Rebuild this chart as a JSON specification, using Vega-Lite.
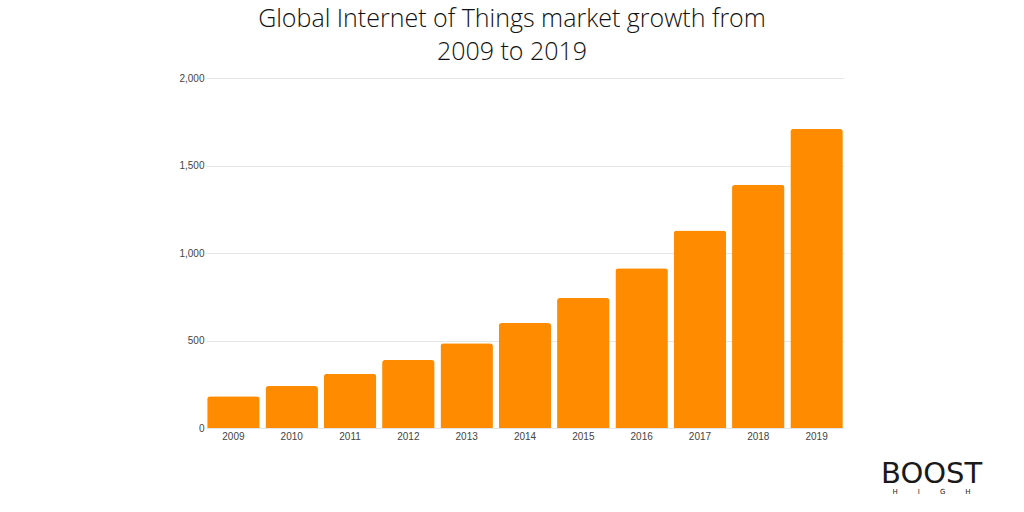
{
  "$schema": "https://vega.github.io/schema/vega-lite/v6.json",
  "width": 638,
  "height": 350,
  "autosize": "none",
  "padding": {"left": 206, "top": 78, "right": 180, "bottom": 84},
  "background": "white",
  "title": {
    "text": ["Global Internet of Things market growth from", "2009 to 2019"],
    "font": "Open Sans",
    "fontWeight": 300,
    "fontSize": 25,
    "color": "#111111",
    "lineHeight": 33,
    "anchor": "middle",
    "dx": -13,
    "offset": 8
  },
  "config": {
    "view": {"stroke": null},
    "axis": {
      "labelFont": "Liberation Sans",
      "labelFontSize": 10,
      "labelColor": "#444444",
      "domain": false,
      "ticks": false,
      "title": null
    }
  },
  "layer": [
    {
      "data": {
        "values": [
          {"year": "2009", "value": 182},
          {"year": "2010", "value": 240},
          {"year": "2011", "value": 310},
          {"year": "2012", "value": 389},
          {"year": "2013", "value": 485},
          {"year": "2014", "value": 600},
          {"year": "2015", "value": 743},
          {"year": "2016", "value": 913},
          {"year": "2017", "value": 1128},
          {"year": "2018", "value": 1390},
          {"year": "2019", "value": 1709}
        ]
      },
      "mark": {
        "type": "bar",
        "color": "#FF8C00",
        "cornerRadiusTopLeft": 3,
        "cornerRadiusTopRight": 3
      },
      "encoding": {
        "x": {
          "field": "year",
          "type": "ordinal",
          "scale": {"paddingInner": 0.1, "paddingOuter": 0.02},
          "axis": {"labelAngle": 0, "labelPadding": 3, "grid": false}
        },
        "y": {
          "field": "value",
          "type": "quantitative",
          "scale": {"domain": [0, 2000]},
          "axis": {
            "values": [0, 500, 1000, 1500, 2000],
            "format": ",.0f",
            "labelPadding": 2,
            "grid": true,
            "gridColor": "#e6e6e6",
            "gridWidth": 1
          }
        }
      }
    },
    {
      "data": {
        "values": [
          {"year": "2019", "pos": -263, "label": "BOOST"},
          {"year": "2019", "pos": -368, "label": "H\u00a0\u00a0\u00a0\u00a0\u00a0\u00a0\u00a0\u00a0\u00a0I\u00a0\u00a0\u00a0\u00a0\u00a0\u00a0\u00a0\u00a0\u00a0G\u00a0\u00a0\u00a0\u00a0\u00a0\u00a0\u00a0\u00a0\u00a0H"}
        ]
      },
      "mark": {"type": "text", "dx": 115, "font": "DejaVu Sans", "fontWeight": "normal", "color": "#1a1a1a", "baseline": "middle"},
      "encoding": {
        "x": {"field": "year", "type": "ordinal"},
        "y": {"field": "pos", "type": "quantitative"},
        "text": {"field": "label"},
        "size": {
          "field": "label",
          "type": "nominal",
          "scale": {"domain": ["BOOST", "H\u00a0\u00a0\u00a0\u00a0\u00a0\u00a0\u00a0\u00a0\u00a0I\u00a0\u00a0\u00a0\u00a0\u00a0\u00a0\u00a0\u00a0\u00a0G\u00a0\u00a0\u00a0\u00a0\u00a0\u00a0\u00a0\u00a0\u00a0H"], "range": [29, 7]},
          "legend": null
        }
      }
    }
  ]
}
